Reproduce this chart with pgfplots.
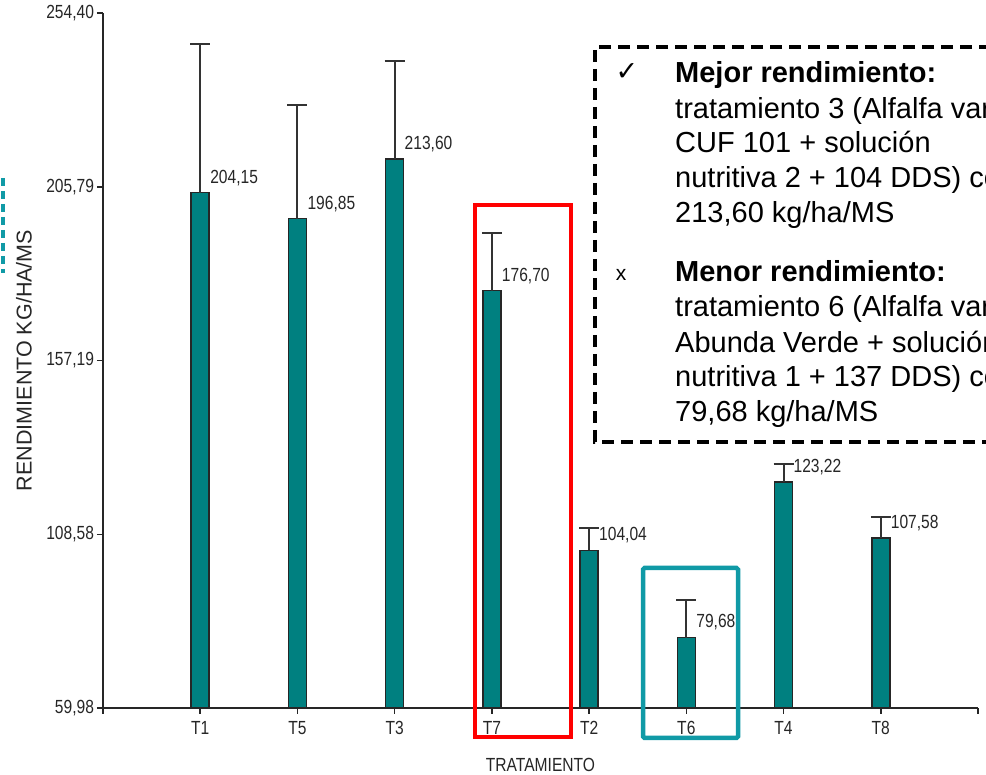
\documentclass[border=0pt]{standalone}
\usepackage{pgfplots}
\usepackage{pgfplotstable}
\pgfplotsset{compat=1.18}
\usepackage{fontspec}
\setmainfont{Liberation Sans}
\newfontfamily\narrow[FakeStretch=0.82]{Liberation Sans}
\newfontfamily\dejavu{DejaVu Sans}
\definecolor{barteal}{RGB}{0,128,128}
\definecolor{boxteal}{RGB}{16,154,166}
\pgfplotstableread{
x y err lab
1 204.15 41.5 204,15
2 196.85 31.8 196,85
3 213.60 27.4 213,60
4 176.70 16.2 176,70
5 104.04 6.4 104,04
6 79.68 10.6 79,68
7 123.22 5.1 123,22
8 107.58 5.9 107,58
}\datatable
\begin{document}
\begin{tikzpicture}[x=1pt,y=1pt]
\begin{axis}[
  at={(103pt,67pt)}, anchor=south west,
  scale only axis, width=875pt, height=695pt,
  xmin=0, xmax=9, ymin=59.98, ymax=254.40,
  axis x line=bottom, axis y line=left,
  x axis line style={-}, y axis line style={-},
  tick align=outside, major tick length=6pt,
  xtick={0,...,9}, xticklabels={,T1,T5,T3,T7,T2,T6,T4,T8,},
  ytick={59.98,108.58,157.19,205.79,254.40},
  yticklabels={{59,98},{108,58},{157,19},{205,79},{254,40}},
  ticklabel style={font=\narrow\fontsize{19}{20}\selectfont, text=black!85},
  xticklabel style={yshift=-4pt},
  yticklabel style={xshift=0.5pt},
  axis line style={line width=1.5pt, draw=black!85},
  tick style={line width=1.5pt, draw=black!85},
  xlabel={TRATAMIENTO}, ylabel={RENDIMIENTO KG/HA/MS},
  xlabel style={font=\narrow\fontsize{19}{20}\selectfont, text=black!85, at={(axis description cs:0.5,-0.082)}, anchor=center},
  ylabel style={font=\fontsize{21.5}{22}\selectfont, text=black!85, at={(axis description cs:-0.0903,0.5)}, anchor=center},
]
\addplot[ybar, bar width=18pt, fill=barteal, draw=black!85, line width=1.5pt,
  nodes near coords, point meta=explicit symbolic,
  nodes near coords style={font=\narrow\fontsize{19}{20}\selectfont, text=black!85, anchor=west, xshift=6pt, yshift=15pt},
  error bars/y dir=plus, error bars/y explicit,
  error bars/error bar style={line width=2pt, draw=black!80, solid},
  error bars/error mark options={rotate=90, mark size=10pt, line width=2pt, draw=black!80, solid}]
  table[x=x, y=y, y error=err, meta=lab] {\datatable};
\end{axis}
\draw[red, line width=4pt] (475,38) rectangle (571,570);
\draw[boxteal, line width=4.5pt, rounded corners=1.5pt] (643,37) rectangle (738,207);
\draw[boxteal, line width=4pt, dash pattern=on 8pt off 5pt] (2.5,597) -- (2.5,502);
\begin{scope}
\clip (0,0) rectangle (986,775);
\draw[line width=3.5pt, dash pattern=on 12pt off 7pt] (1010,728) -- (595,728) -- (595,333) -- (1010,333);
\node[font=\dejavu\fontsize{27}{27}\selectfont, inner sep=0pt] at (627,703) {✓};
\node[font=\fontsize{21}{21}\selectfont, anchor=base, inner sep=0pt] at (621,494) {x};
\begin{scope}[every node/.style={anchor=base west, inner sep=0pt, font=\fontsize{29}{35}\selectfont}]
\node[font=\fontsize{29}{35}\selectfont\bfseries] at (675,692) {Mejor rendimiento:};
\node at (675,656) {tratamiento 3 (Alfalfa var.};
\node at (675,622) {CUF 101 + solución};
\node at (675,587) {nutritiva 2 + 104 DDS) con};
\node at (675,552) {213,60 kg/ha/MS};
\node[font=\fontsize{29}{35}\selectfont\bfseries] at (675,493) {Menor rendimiento:};
\node at (675,458) {tratamiento 6 (Alfalfa var.};
\node at (675,422) {Abunda Verde + solución};
\node at (675,388) {nutritiva 1 + 137 DDS) con};
\node at (675,353) {79,68 kg/ha/MS};
\end{scope}
\end{scope}
\pgfresetboundingbox
\useasboundingbox (0,0) rectangle (986,775);
\end{tikzpicture}
\end{document}
